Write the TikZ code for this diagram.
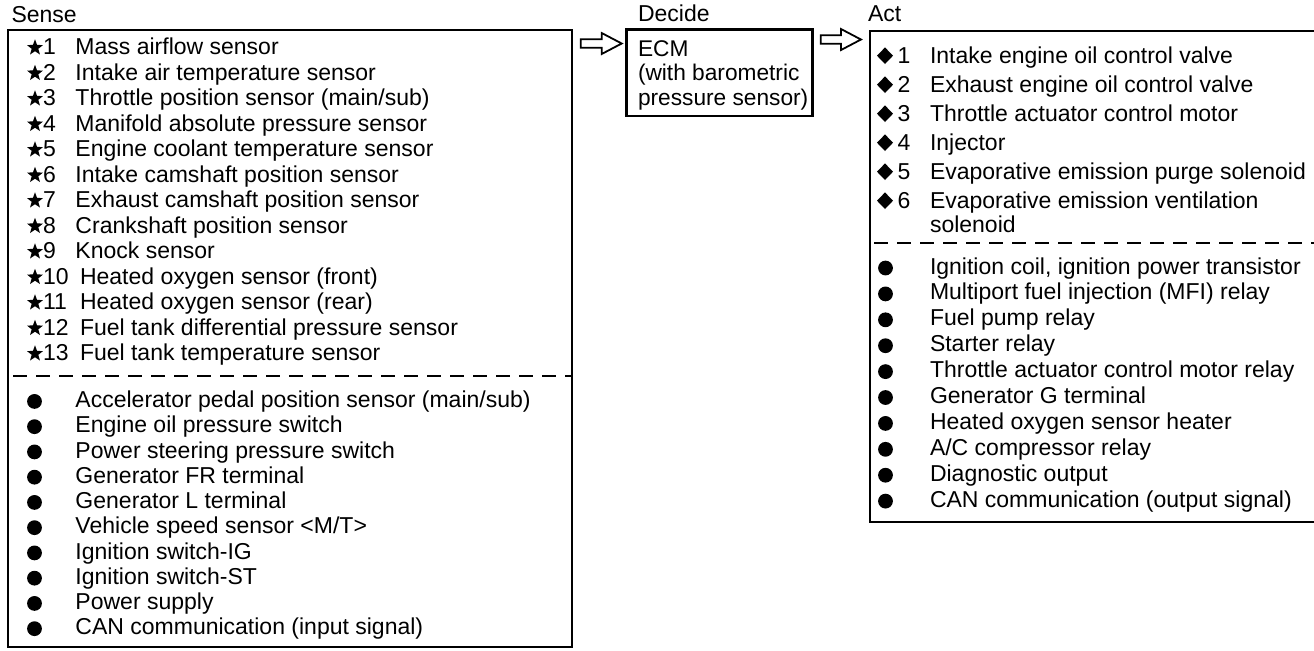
\documentclass[tikz,border=0pt]{standalone}
\usepackage{fontspec}
\setmainfont{Liberation Sans}
\usetikzlibrary{calc,shapes.geometric}
\begin{document}
\begin{tikzpicture}[x=0.5pt,y=-0.5pt,
  box/.style={draw, line width=1.25pt, inner sep=0, outer sep=0, anchor=north west},
  txt/.style={anchor=base west, inner sep=0, outer sep=0, align=left,
    font=\fontsize{11.5pt}{12.2pt}\selectfont},
  starmark/.style={star, star points=5, star point ratio=2.4, fill, draw=none,
    inner sep=0, outer sep=0, minimum size=8.4pt},
  diamark/.style={diamond, fill, draw=none, inner sep=0, outer sep=0,
    minimum width=8pt, minimum height=8.3pt},
  dotmark/.style={circle, fill, draw=none, inner sep=0, outer sep=0, minimum size=7.4pt},
  sepline/.style={line width=1pt, dash pattern=on 7pt off 4.5pt},
  hollow/.style={draw, line width=0.9pt, fill=white, line join=miter}
]
\useasboundingbox (0,0) rectangle (1314,650);

% stage titles
\node[txt] (tsense)  at (11.5,22) {Sense};
\node[txt] (tdecide) at (638,21) {Decide};
\node[txt] (tact)    at (868,21) {Act};

% the three boxes
\node[box, minimum width=282pt, minimum height=308.5pt] (sense) at (8,30) {};
\node[box, minimum width=92.9pt, minimum height=43.25pt] (ecm) at (626.7,29.5) {};
\node[box, minimum width=240pt, minimum height=245.5pt] (act) at (870,31) {};

% multi-line text: the base anchor sits on the last line
\node[txt, font=\fontsize{11.35pt}{12.2pt}\selectfont] (ecmtext) at (638,105)
  {ECM\\(with barometric\\pressure sensor)};

% hollow block arrows between the stages
\coordinate (a1s) at ($(sense.north east)+(8.7,13.5)$);
\coordinate (a1e) at ($(ecm.west |- a1s)+(-5,0)$);
\coordinate (a2s) at ($(ecm.north east)+(8.2,10)$);
\coordinate (a2e) at ($(act.west |- a2s)+(-9,0)$);
\foreach \s/\e in {a1s/a1e, a2s/a2e}{
  \draw[hollow] ($(\s)+(0,-4.2)$) -- ($(\e)+(-20,-4.2)$) -- ($(\e)+(-20,-10.5)$)
    -- (\e) -- ($(\e)+(-20,10.5)$) -- ($(\e)+(-20,4.2)$) -- ($(\s)+(0,4.2)$) -- cycle;
}

% Sense: numbered sensors
\foreach \i/\t in {1/Mass airflow sensor, 2/Intake air temperature sensor,
  3/{Throttle position sensor (main/sub)}, 4/Manifold absolute pressure sensor,
  5/Engine coolant temperature sensor, 6/Intake camshaft position sensor,
  7/Exhaust camshaft position sensor, 8/Crankshaft position sensor, 9/Knock sensor}{
  \pgfmathsetmacro\yb{54.7+25.5*(\i-1)}
  \node[starmark] (ss\i) at (35,\yb-7) {};
  \node[txt] (sn\i) at (43,\yb) {\i};
  \node[txt] (st\i) at (75.5,\yb) {\t};
}
\foreach \i/\t in {10/Heated oxygen sensor (front), 11/Heated oxygen sensor (rear),
  12/Fuel tank differential pressure sensor, 13/Fuel tank temperature sensor}{
  \pgfmathsetmacro\yb{54.7+25.5*(\i-1)}
  \node[starmark] (ss\i) at (35,\yb-7) {};
  \node[txt] (sn\i) at (43,\yb) {\i};
  \node[txt] (st\i) at (80,\yb) {\t};
}
\draw[sepline] (13,376) -- (sense.east |- 0,376);

% Sense: other inputs
\foreach \t [count=\k from 0] in {{Accelerator pedal position sensor (main/sub)},
  Engine oil pressure switch, Power steering pressure switch, Generator FR terminal,
  Generator L terminal, {Vehicle speed sensor <M/T>}, Ignition switch-IG,
  Ignition switch-ST, Power supply, CAN communication (input signal)}{
  \pgfmathsetmacro\yb{407.7+25.25*\k}
  \node[dotmark] (sd\k) at (34.5,\yb-6.3) {};
  \node[txt] (su\k) at (75.5,\yb) {\t};
}

% Act: numbered actuators
\foreach \i/\t in {1/Intake engine oil control valve, 2/Exhaust engine oil control valve,
  3/Throttle actuator control motor, 4/Injector,
  5/Evaporative emission purge solenoid}{
  \pgfmathsetmacro\yb{63.3+29*(\i-1)}
  \node[diamark] (ad\i) at (885,\yb-7.6) {};
  \node[txt] (an\i) at (897.5,\yb) {\i};
  \node[txt] (at\i) at (930,\yb) {\t};
}
\node[diamark] (ad6) at (885,208.3-7.6) {};
\node[txt] (an6) at (897.5,208.3) {6};
\node[txt] (at6) at (930,232.5) {Evaporative emission ventilation\\solenoid};
\draw[sepline] (874,243) -- (act.east |- 0,243);

% Act: other outputs
\foreach \t [count=\k from 0] in {{Ignition coil, ignition power transistor},
  Multiport fuel injection (MFI) relay, Fuel pump relay, Starter relay,
  Throttle actuator control motor relay, Generator G terminal,
  Heated oxygen sensor heater, A/C compressor relay, Diagnostic output,
  CAN communication (output signal)}{
  \pgfmathsetmacro\yb{274+25.9*\k}
  \node[dotmark] (od\k) at (885.5,\yb-6) {};
  \node[txt] (ou\k) at (930,\yb) {\t};
}
\end{tikzpicture}
\end{document}
